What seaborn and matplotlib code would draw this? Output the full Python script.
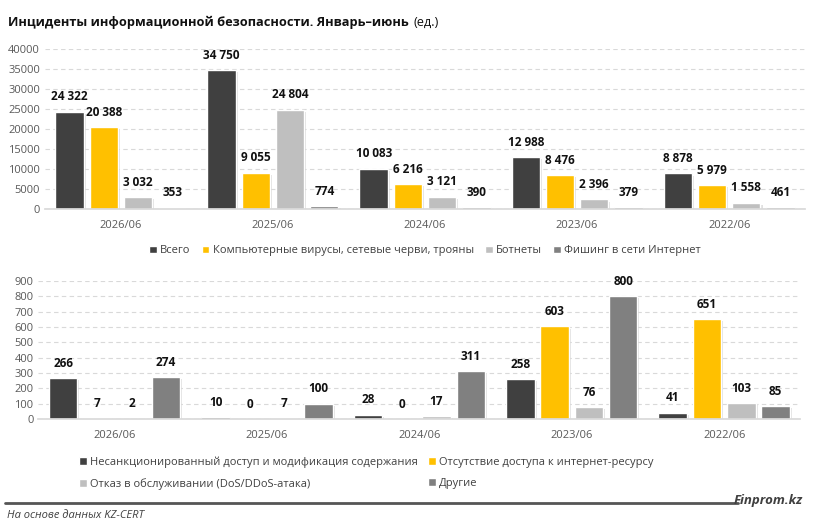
import seaborn as sns
import matplotlib.pyplot as plt
import pandas as pd
import numpy as np
from matplotlib.lines import Line2D
from matplotlib import patheffects as pe

periods = ["2026/06", "2025/06", "2024/06", "2023/06", "2022/06"]

# top chart
top_series = ["Всего", "Компьютерные вирусы, сетевые черви, трояны",
              "Ботнеты", "Фишинг в сети Интернет"]
total = [24322, 34750, 10083, 12988, 8878]
viruses = [20388, 9055, 6216, 8476, 5979]
botnets = [3032, 24804, 3121, 2396, 1558]
phishing = [353, 774, 390, 379, 461]

# bottom chart
bottom_series = ["Несанкционированный доступ и модификация содержания",
                 "Отсутствие доступа к интернет-ресурсу",
                 "Отказ в обслуживании (DoS/DDoS-атака)",
                 "Другие"]
unauthorized = [266, 10, 28, 258, 41]
no_access = [7, 0, 0, 603, 651]
dos = [2, 7, 17, 76, 103]
other = [274, 100, 311, 800, 85]

colors = ["#404040", "#FFC000", "#BFBFBF", "#808080"]

sns.set_theme(style="white")
plt.rcParams['font.family'] = ['Open Sans', 'DejaVu Sans']

top_df = pd.DataFrame({
    "period": periods * 4,
    "series": np.repeat(top_series, 5),
    "value": total + viruses + botnets + phishing,
})
bottom_df = pd.DataFrame({
    "period": periods * 4,
    "series": np.repeat(bottom_series, 5),
    "value": unauthorized + no_access + dos + other,
})

fig = plt.figure(figsize=(8.15, 5.27), dpi=100)
ax1 = fig.add_axes([0.055, 0.6034, 0.933, 0.3036])
ax2 = fig.add_axes([0.047, 0.205, 0.935, 0.262])

shadow = [pe.SimplePatchShadow(offset=(1.5, -1.5), shadow_rgbFace="#cccccc", alpha=0.6),
          pe.Normal()]


def draw(ax, df, series, ymax, step):
    sns.barplot(data=df, x="period", y="value", hue="series",
                hue_order=series, palette=colors, width=0.9, gap=0.17,
                ax=ax, legend=True, saturation=1)
    for c in ax.containers:
        for p in c.patches:
            p.set_path_effects(shadow)
        labels = [f"{int(v):,}".replace(",", " ") for v in c.datavalues]
        ax.bar_label(c, labels=labels, padding=6, fontsize=8.5,
                     fontweight="bold", color="#111111")
    ax.set_ylim(0, ymax)
    ax.set_yticks(np.arange(0, ymax + 1, step))
    ax.set_xlim(-0.5, 4.5)
    ax.grid(axis="y", linestyle=(0, (4, 3)), color="#d9d9d9", linewidth=0.8)
    ax.set_axisbelow(True)
    for s in ["top", "right", "left"]:
        ax.spines[s].set_visible(False)
    ax.spines["bottom"].set_color("#d9d9d9")
    ax.tick_params(axis="both", length=0, labelsize=8, colors="#595959")
    ax.tick_params(axis="x", pad=8)
    ax.set_xlabel("")
    ax.set_ylabel("")


draw(ax1, top_df, top_series, 40000, 5000)
draw(ax2, bottom_df, bottom_series, 900, 100)

h, l = ax1.get_legend_handles_labels()
ax1.legend(h, l, loc="upper center", bbox_to_anchor=(0.5, -0.165), ncol=4,
           frameon=False, fontsize=8, handlelength=0.7, handleheight=0.7,
           columnspacing=1.0, handletextpad=0.3, labelcolor="#404040")

h, l = ax2.get_legend_handles_labels()
order = [0, 2, 1, 3]
ax2.legend([h[i] for i in order], [l[i] for i in order], loc="upper left",
           bbox_to_anchor=(0.04, -0.2), ncol=2, frameon=False, fontsize=8,
           handlelength=0.7, handleheight=0.7, columnspacing=0.9,
           handletextpad=0.3, labelspacing=0.9, labelcolor="#404040")

title = fig.text(0.01, 0.958, "Инциденты информационной безопасности. Январь–июнь",
                 fontsize=9.2, fontweight="bold", color="#111111", va="center")
fig.canvas.draw()
bb = title.get_window_extent().transformed(fig.transFigure.inverted())
fig.text(bb.x1 + 0.006, 0.958, "(ед.)", fontsize=9.2, color="#111111", va="center")

fig.add_artist(Line2D([0.006, 0.905], [0.046, 0.046], color="#555555",
                      linewidth=2, transform=fig.transFigure))
fig.text(0.008, 0.022, "На основе данных KZ-CERT", fontsize=8,
         fontstyle="italic", color="#404040", va="center")
fig.text(0.985, 0.051, "Finprom.kz", fontsize=9.5, fontstyle="italic",
         fontweight="bold", color="#404040", va="center", ha="right")

fig.savefig("out.png", dpi=100)
